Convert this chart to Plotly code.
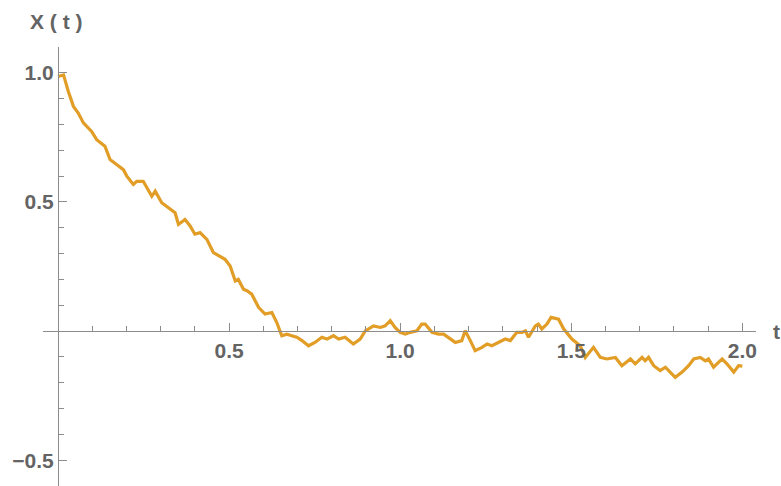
import plotly.graph_objects as go

t_vals = [0.0, 0.016, 0.03, 0.045, 0.059, 0.074, 0.098, 0.113, 0.137, 0.152, 0.171, 0.191,
          0.201, 0.22, 0.23, 0.249, 0.274, 0.284, 0.303, 0.323, 0.342, 0.352, 0.371, 0.386,
          0.4, 0.415, 0.435, 0.454, 0.469, 0.488, 0.503, 0.518, 0.527, 0.542, 0.552, 0.566,
          0.586, 0.605, 0.625, 0.639, 0.654, 0.669, 0.683, 0.698, 0.713, 0.732, 0.751, 0.771,
          0.786, 0.805, 0.82, 0.839, 0.863, 0.883, 0.898, 0.922, 0.942, 0.956, 0.971, 0.985,
          1.0, 1.015, 1.029, 1.049, 1.063, 1.073, 1.093, 1.112, 1.127, 1.141, 1.161, 1.18,
          1.19, 1.205, 1.219, 1.239, 1.254, 1.268, 1.288, 1.307, 1.322, 1.341, 1.356, 1.366,
          1.375, 1.395, 1.404, 1.414, 1.429, 1.441, 1.463, 1.478, 1.502, 1.526, 1.541, 1.565,
          1.585, 1.604, 1.629, 1.648, 1.673, 1.687, 1.707, 1.716, 1.726, 1.741, 1.76, 1.775,
          1.789, 1.804, 1.824, 1.843, 1.858, 1.877, 1.892, 1.901, 1.916, 1.941, 1.955, 1.975,
          1.989, 2.0]
x_vals = [0.986, 0.992, 0.928, 0.87, 0.844, 0.806, 0.773, 0.741, 0.716, 0.664, 0.645, 0.625,
          0.6, 0.568, 0.58, 0.58, 0.522, 0.542, 0.497, 0.477, 0.458, 0.413, 0.432, 0.407,
          0.375, 0.381, 0.355, 0.304, 0.291, 0.278, 0.252, 0.194, 0.2, 0.162, 0.156, 0.143,
          0.092, 0.066, 0.072, 0.034, -0.018, -0.012, -0.018, -0.024, -0.037, -0.057, -0.044, -0.024,
          -0.031, -0.018, -0.031, -0.024, -0.05, -0.031, 0.001, 0.02, 0.014, 0.02, 0.04, 0.014,
          -0.005, -0.012, -0.005, 0.001, 0.027, 0.027, -0.005, -0.012, -0.012, -0.024, -0.044, -0.037,
          0.001, -0.037, -0.076, -0.063, -0.05, -0.057, -0.044, -0.031, -0.037, -0.005, -0.005, 0.001,
          -0.024, 0.02, 0.027, 0.008, 0.027, 0.053, 0.046, 0.008, -0.031, -0.057, -0.102, -0.063,
          -0.102, -0.108, -0.102, -0.134, -0.108, -0.127, -0.102, -0.115, -0.102, -0.134, -0.153, -0.14,
          -0.159, -0.179, -0.159, -0.134, -0.108, -0.102, -0.115, -0.108, -0.14, -0.108, -0.127, -0.159,
          -0.134, -0.136]

x_tick_vals = [0.5, 1.0, 1.5, 2.0]
x_tick_text = ["0.5", "1.0", "1.5", "2.0"]
y_tick_vals = [-0.5, 0.5, 1.0]
y_tick_text = ["\u22120.5", "0.5", "1.0"]
x_minor = [0.1, 0.2, 0.3, 0.4, 0.6, 0.7, 0.8, 0.9, 1.1, 1.2, 1.3, 1.4, 1.6, 1.7, 1.8, 1.9]
y_minor = [-0.4, -0.3, -0.2, -0.1, 0.1, 0.2, 0.3, 0.4, 0.6, 0.7, 0.8, 0.9, 1.1]

line_color = "#E19D26"
axis_color = "#8c8c8c"
label_color = "#646464"
font_family = "Liberation Sans, Arial, sans-serif"
label_font = dict(size=21, color=label_color, family=font_family, weight="bold")

fig = go.Figure()
fig.add_trace(go.Scatter(x=t_vals, y=x_vals, mode="lines",
                         line=dict(color=line_color, width=3.2), showlegend=False))

y_range = [-0.6, 1.1]
x_range = [-0.044, 2.04]

fig.update_layout(
    width=781, height=486,
    margin=dict(l=43, r=25, t=47, b=0, autoexpand=False),
    paper_bgcolor="white", plot_bgcolor="white",
    font=dict(family=font_family, color=label_color),
    xaxis=dict(
        range=x_range, showgrid=False, zeroline=False, automargin=False,
        anchor="free", position=(0 - y_range[0]) / (y_range[1] - y_range[0]),
        showline=True, linecolor=axis_color, linewidth=1.2,
        ticks="inside", ticklen=8, tickwidth=1, tickcolor=axis_color,
        tickmode="array", tickvals=x_tick_vals, ticktext=x_tick_text,
        tickfont=label_font, ticklabelstandoff=1,
        minor=dict(tickmode="array", tickvals=x_minor, ticks="inside", ticklen=5,
                   tickcolor=axis_color, tickwidth=1),
    ),
    yaxis=dict(
        range=y_range, showgrid=False, zeroline=False, automargin=False,
        anchor="free", position=(0 - x_range[0]) / (x_range[1] - x_range[0]),
        showline=True, linecolor=axis_color, linewidth=1.2,
        ticks="inside", ticklen=8, tickwidth=1, tickcolor=axis_color,
        tickmode="array", tickvals=y_tick_vals, ticktext=y_tick_text,
        tickfont=label_font,
        minor=dict(tickmode="array", tickvals=y_minor, ticks="inside", ticklen=5,
                   tickcolor=axis_color, tickwidth=1),
    ),
    annotations=[
        dict(text="X ( t )", xref="paper", yref="paper", x=0.0196, y=1.059,
             showarrow=False, xanchor="center", yanchor="middle", font=label_font),
        dict(text="t", xref="paper", yref="paper", x=1.029, y=0.353,
             showarrow=False, xanchor="center", yanchor="middle", font=label_font),
    ],
)

fig.write_html("out.html", config={"displayModeBar": False},
               post_script="document.body.style.margin='0';document.body.style.overflow='hidden';")
